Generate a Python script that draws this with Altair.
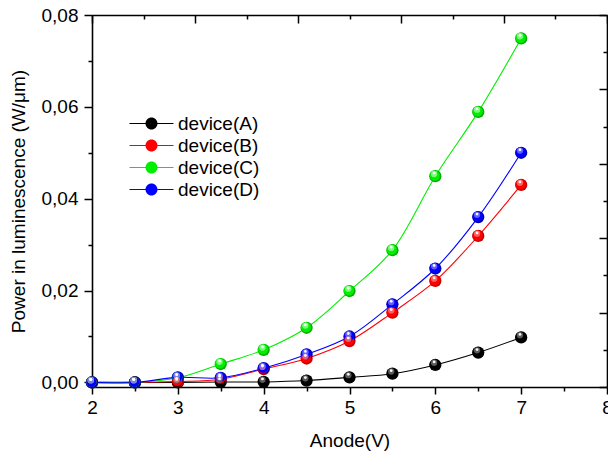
import altair as alt
import pandas as pd

# Anode voltage steps and luminescence power per device
anode_v = [2.0, 2.5, 3.0, 3.5, 4.0, 4.5, 5.0, 5.5, 6.0, 6.5, 7.0]
device_a = [0.0, 0.0, 0.0, 0.0001, 0.0001, 0.0004, 0.0011, 0.0019, 0.0038, 0.0065, 0.0098]
device_b = [0.0, 0.0, 0.0002, 0.0007, 0.0029, 0.0052, 0.0090, 0.0152, 0.0221, 0.0319, 0.0430]
device_c = [0.0, 0.0, 0.0010, 0.0040, 0.0071, 0.0119, 0.0199, 0.0288, 0.0449, 0.0589, 0.0749]
device_d = [0.0, 0.0, 0.0011, 0.0010, 0.0031, 0.0061, 0.0100, 0.0170, 0.0248, 0.0360, 0.0500]

series_names = ["device(A)", "device(B)", "device(C)", "device(D)"]
series_values = [device_a, device_b, device_c, device_d]
series_colors = ["#000000", "#ff0000", "#00ee00", "#0000ff"]
shade_colors = ["#000000", "#c80000", "#00b000", "#0000b0"]
glow_colors = ["#6a6a6a", "#ff7070", "#90ff90", "#7070ff"]

rows = []
for name, vals in zip(series_names, series_values):
    for v, p in zip(anode_v, vals):
        rows.append({"anode": v, "power": p, "device": name})
df = pd.DataFrame(rows)

W, H = 515, 372
X_DOM = [2, 8]
Y_DOM = [-0.001, 0.08]
FONT = "Liberation Sans"

x_scale = alt.Scale(domain=X_DOM, nice=False, zero=False)
y_scale = alt.Scale(domain=Y_DOM, nice=False, zero=False)

# main axes (bottom / left)
x_main = alt.Axis(
    title="Anode(V)",
    values=[2 + 0.5 * i for i in range(13)],
    labelExpr="datum.value % 1 == 0 ? format(datum.value, 'd') : ''",
    tickSize={"condition": {"test": "datum.value % 1 == 0", "value": 7}, "value": 4},
    labelFlush=False, labelOverlap=False, grid=False,
    labelPadding=4, titleX=W / 2, titleY=53, titleBaseline="middle", titleAlign="center",
)
y_main = alt.Axis(
    title="Power in luminescence (W/μm)",
    values=[round(0.01 * i, 2) for i in range(9)],
    labelExpr="round(datum.value*100) % 2 == 0 ? replace(format(datum.value, '.2f'), '.', ',') : ''",
    tickSize={"condition": {"test": "round(datum.value*100) % 2 == 0", "value": 8}, "value": 4},
    labelFlush=False, labelOverlap=False, grid=False,
    labelPadding=6, titleX=-74, titleY=H / 2, titleBaseline="middle", titleAlign="center",
)
# inward ticks on top and right edges (box frame)
top_vals = [2 + 0.6 * i for i in range(11)]
x_top = alt.Axis(
    orient="bottom", offset=-H, labels=False, title=None, grid=False,
    values=top_vals,
    tickSize={"condition": {"test": "round((datum.value-2)/0.6) % 2 == 0", "value": 8}, "value": 4},
)
right_vals = [-0.001 + 0.0081 * i for i in range(11)]
y_right = alt.Axis(
    orient="left", offset=-W, labels=False, title=None, grid=False,
    values=right_vals,
    tickSize={"condition": {"test": "round((datum.value+0.001)/0.0081) % 2 == 0", "value": 8}, "value": 4},
)

base = alt.Chart(df)
xe = alt.X("anode:Q", scale=x_scale, axis=None)
ye = alt.Y("power:Q", scale=y_scale, axis=None)

lines = base.mark_line(interpolate="catmull-rom", strokeWidth=1.1).encode(
    x=alt.X("anode:Q", scale=x_scale, axis=x_main),
    y=alt.Y("power:Q", scale=y_scale, axis=y_main),
    stroke=alt.Stroke("device:N", scale=alt.Scale(domain=series_names, range=series_colors), legend=None),
    detail="device:N",
)

# legend glyph: short bars either side of a filled dot (all filled shapes)
glyph = (
    "M-3.67,-0.1L-1,-0.1L-1,0.1L-3.67,0.1Z"
    "M1,-0.1L3.67,-0.1L3.67,0.1L1,0.1Z"
    "M-1,0A1,1,0,1,1,1,0A1,1,0,1,1,-1,0Z"
)
legend = alt.Legend(
    title=None, orient="none", legendX=34, legendY=99, padding=0,
    symbolType=glyph, symbolSize=144, symbolStrokeWidth=0, symbolOffset=16, labelOffset=17,
    labelFont=FONT, labelFontSize=19, labelColor="#000000", rowPadding=2,
)

# sphere look: dark rim, body colour, soft glow, white specular spot
rim = base.mark_point(filled=True, size=150, opacity=1).encode(
    x=alt.X("anode:Q", scale=x_scale, axis=x_top),
    y=alt.Y("power:Q", scale=y_scale, axis=y_right),
    color=alt.Color("device:N", scale=alt.Scale(domain=series_names, range=shade_colors), legend=None),
)
body = base.mark_point(filled=True, size=105, opacity=1, xOffset=-0.6, yOffset=-0.6).encode(
    x=xe, y=ye,
    fill=alt.Fill("device:N", scale=alt.Scale(domain=series_names, range=series_colors), legend=legend),
)
glow = base.mark_point(filled=True, size=40, opacity=0.85, xOffset=-1.2, yOffset=-2.2).encode(
    x=xe, y=ye,
    fill=alt.Fill("device:N", scale=alt.Scale(domain=series_names, range=glow_colors), legend=None),
)
spot = base.mark_point(filled=True, size=8, opacity=0.95, color="#ffffff", xOffset=-1.2, yOffset=-3).encode(
    x=xe, y=ye, detail="device:N",
)

chart = (
    alt.layer(lines, rim, body, glow, spot)
    .resolve_axis(x="independent", y="independent")
    .resolve_scale(fill="independent")
    .properties(
        width=W, height=H, autosize="none",
        padding={"left": 92, "top": 15, "right": 1, "bottom": 67},
        background="#ffffff",
    )
    .configure_view(stroke=None)
    .configure_axis(
        domainColor="#000000", domainWidth=1.6, tickColor="#000000", tickWidth=1.5,
        labelFont=FONT, labelFontSize=19, labelColor="#000000",
        titleFont=FONT, titleFontSize=19, titleColor="#000000", titleFontWeight="normal",
    )
)

chart.save("out.html", embed_options={"renderer": "svg", "actions": False})
